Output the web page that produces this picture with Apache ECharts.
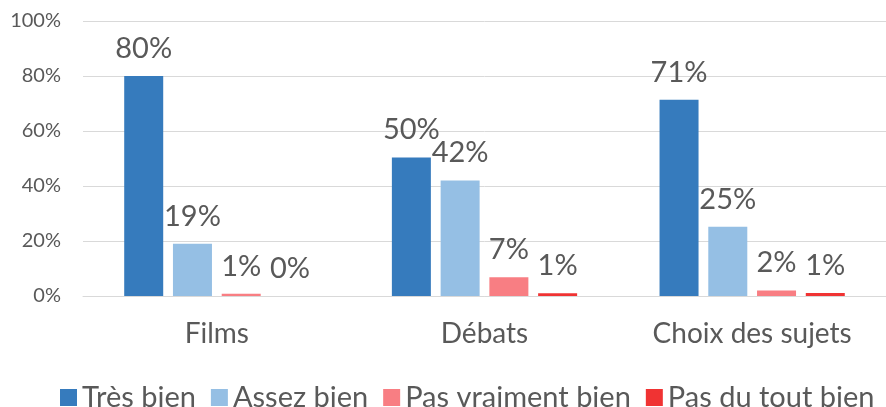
<!DOCTYPE html>
<html>
<head>
<meta charset="utf-8">
<script src="https://cdn.jsdelivr.net/npm/echarts@6/dist/echarts.min.js"></script>
<style>html,body{margin:0;padding:0;background:#fff}#c{width:886px;height:407px}</style>
</head>
<body>
<div id="c"></div>
<script>
var categories = ['Films', 'Débats', 'Choix des sujets'];
var seriesNames = ['Très bien', 'Assez bien', 'Pas vraiment bien', 'Pas du tout bien'];
var tresBien = [80, 50.4, 71.4];
var assezBien = [19, 42, 25.2];
var pasVraimentBien = [0.8, 6.8, 2];
var pasDuToutBien = [0, 1, 1.1];
var yTicks = [0, 20, 40, 60, 80, 100];

var colors = ['#367BBD', '#95BFE4', '#F87E83', '#F03333'];
var FONT = 'Lato';
var TXT = '#595959';

var chart = echarts.init(document.getElementById('c'));
var values = [tresBien, assezBien, pasVraimentBien, pasDuToutBien];
var series = seriesNames.map(function (name, i) {
  return {
    name: name,
    type: 'bar',
    data: values[i],
    barWidth: 39,
    barGap: '25%',
    itemStyle: { color: colors[i] },
    label: {
      show: true,
      position: 'top',
      distance: 13,
      color: TXT,
      fontFamily: FONT,
      fontSize: 29,
      formatter: function (p) { return Math.round(p.value) + '%'; }
    }
  };
});

chart.setOption({
  animation: false,
  color: colors,
  grid: { left: 83, right: -6, top: 21, bottom: 111, containLabel: false },
  legend: {
    data: seriesNames,
    left: 55,
    top: 378,
    icon: 'rect',
    itemWidth: 17,
    itemHeight: 17,
    itemGap: 15,
    textStyle: { color: TXT, fontFamily: FONT, fontSize: 29, padding: [0, 0, 0, 0] }
  },
  xAxis: {
    type: 'category',
    data: categories,
    axisLine: { show: true, lineStyle: { color: '#D9D9D9', width: 1 } },
    axisTick: { show: false },
    axisLabel: { color: TXT, fontFamily: FONT, fontSize: 28, margin: 24 }
  },
  yAxis: {
    type: 'value',
    min: yTicks[0],
    max: yTicks[yTicks.length - 1],
    interval: yTicks[1] - yTicks[0],
    axisLine: { show: false },
    axisTick: { show: false },
    splitLine: { lineStyle: { color: '#D9D9D9', width: 1 } },
    axisLabel: { color: TXT, fontFamily: FONT, fontSize: 20, margin: 22, formatter: '{value}%' }
  },
  series: series
});
</script>
</body>
</html>
